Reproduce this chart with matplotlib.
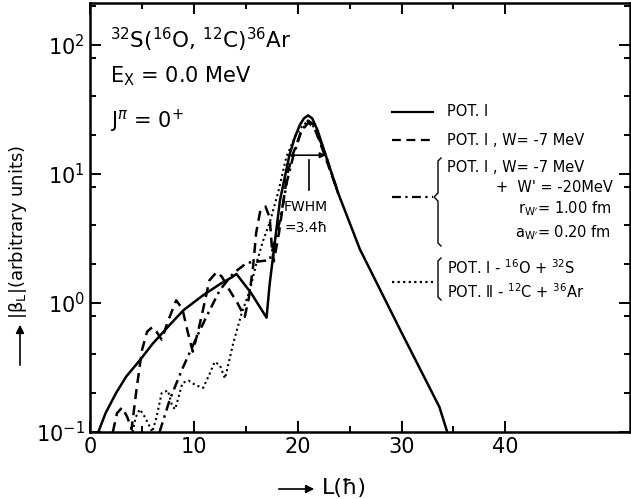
import numpy as np
import matplotlib.pyplot as plt
from matplotlib.lines import Line2D
from matplotlib.patches import FancyArrowPatch
from matplotlib.ticker import LogLocator, FixedLocator, NullFormatter

# L (hbar) and |beta_L|
L_pot1 = [0.8, 1.5, 2.5, 3.5, 4.8, 6.0, 7.7, 9.0, 10.9, 12.5, 13.75, 14.1, 15.5, 17.0,
          17.3, 18.3, 19.2, 19.7, 20.2, 20.6, 21.0, 21.4, 21.9, 22.7, 23.9, 26.0, 28.0,
          30.0, 32.0, 33.65, 34.4]
b_pot1 = [0.1, 0.14, 0.2, 0.27, 0.36, 0.48, 0.68, 0.88, 1.15, 1.4, 1.6, 1.68, 1.2, 0.77,
          1.4, 6.3, 14, 19, 24, 27, 28.5, 27, 22, 14, 7.1, 2.6, 1.24, 0.59, 0.285, 0.156, 0.1]

L_w7 = [2.2, 2.6, 3.1, 3.6, 4.0, 4.5, 5.0, 5.5, 6.0, 6.4, 6.9, 7.5, 8.3, 8.9, 9.4, 9.9,
        10.4, 10.9, 11.5, 12.2, 12.7, 13.2, 14.2, 14.9, 15.3, 15.7, 16.0, 16.4, 16.9,
        17.3, 17.5, 17.7, 18.2, 19.0, 19.5, 20.3, 21.0, 21.6, 22.6, 23.9]
b_w7 = [0.1, 0.14, 0.155, 0.13, 0.105, 0.22, 0.43, 0.6, 0.65, 0.6, 0.52, 0.72, 1.05, 0.9,
        0.6, 0.42, 0.6, 0.9, 1.5, 1.74, 1.6, 1.35, 1.0, 0.78, 1.1, 1.9, 3.5, 5.2, 5.6,
        4.6, 2.8, 2.1, 3.5, 10, 14, 21, 25, 23, 14, 7.1]

L_w20 = [6.7, 7.7, 8.9, 10.3, 11.2, 12.5, 13.8, 15.1, 16.2, 17.3, 17.8, 18.3, 19.0, 19.6,
         20.3, 21.0, 21.6, 22.7, 23.9]
b_w20 = [0.1, 0.18, 0.31, 0.55, 0.78, 1.26, 1.7, 2.05, 2.1, 2.15, 3.0, 4.4, 9, 14,
         21, 26, 24, 14, 7.1]

L_pot2 = [4.1, 4.4, 4.8, 5.3, 6.0, 6.4, 6.9, 7.5, 7.9, 8.2, 8.9, 9.5, 10.2, 10.9, 11.5,
          12.0, 12.5, 13.0, 13.8, 14.6, 15.4, 16.0, 16.7, 17.3, 18.1, 18.9, 19.8, 20.5,
          21.0, 21.6, 22.6, 23.9]
b_pot2 = [0.1, 0.13, 0.15, 0.13, 0.1, 0.13, 0.2, 0.21, 0.16, 0.15, 0.24, 0.25, 0.23, 0.22,
          0.28, 0.35, 0.33, 0.26, 0.49, 0.83, 1.26, 2.0, 3.1, 4.2, 7.1, 13.5, 20, 24,
          25.5, 23, 14.5, 7.1]

W, H = 631, 499
fig = plt.figure(figsize=(W / 100, H / 100), dpi=100)
ax = fig.add_axes([90 / W, 1 - 432 / H, (630 - 90) / W, (432 - 3) / H])


def px(x, y):
    # pixel position (from top-left) -> figure fraction
    return x / W, 1 - y / H


lw = 1.8
ax.plot(L_pot1, b_pot1, color='black', lw=lw, ls='-')
ax.plot(L_w7, b_w7, color='black', lw=lw, ls=(0, (4, 2.5)))
ax.plot(L_w20, b_w20, color='black', lw=lw, ls=(0, (4, 2, 1, 2)))
ax.plot(L_pot2, b_pot2, color='black', lw=1.5, ls=(0, (1, 1.5)))

ax.set_yscale('log')
ax.set_xlim(0, 52)
ax.set_ylim(0.1, 212)
ax.xaxis.set_major_locator(FixedLocator([0, 10, 20, 30, 40]))
ax.xaxis.set_minor_locator(FixedLocator([5, 15, 25, 35]))
ax.yaxis.set_major_locator(LogLocator(base=10, numticks=10))
ax.yaxis.set_minor_locator(LogLocator(base=10, subs=(2, 4, 8), numticks=10))
ax.yaxis.set_minor_formatter(NullFormatter())
ax.tick_params(which='both', direction='in', top=True, right=True, width=1.4,
               labelsize=15)
ax.tick_params(which='major', length=8)
ax.tick_params(which='minor', length=4)
for s in ax.spines.values():
    s.set_linewidth(1.8)

# reaction text
fig.text(*px(110, 48), r'$^{32}$S($^{16}$O, $^{12}$C)$^{36}$Ar', fontsize=15.5,
         va='baseline')
fig.text(*px(110, 82), r'E$_{\rm X}$ = 0.0 MeV', fontsize=15, va='baseline')
fig.text(*px(110, 128), r'J$^{\pi}$ = 0$^{+}$', fontsize=15, va='baseline')

# legend
styles = ['-', (0, (4, 2.5)), (0, (4, 2, 1, 2)), (0, (1, 1.5))]
rows = [112, 140, 197, 282]
for st, y in zip(styles, rows):
    x0, y0 = px(392, y)
    x1, _ = px(433, y)
    fig.add_artist(Line2D([x0, x1], [y0, y0], color='black', lw=1.6, ls=st))

fs = 10.5
fig.text(*px(447, 112), 'POT. Ⅰ', fontsize=fs, va='center')
fig.text(*px(447, 140), 'POT. Ⅰ , W= -7 MeV', fontsize=fs, va='center')
fig.text(*px(447, 168), 'POT. Ⅰ , W= -7 MeV', fontsize=fs, va='center')
fig.text(*px(613, 188), "+  W' = -20MeV", fontsize=fs, va='center', ha='right')
fig.text(*px(611, 209), r"r$_{\rm W'}$= 1.00 fm", fontsize=fs, va='center', ha='right')
fig.text(*px(611, 233), r"a$_{\rm W'}$= 0.20 fm", fontsize=fs, va='center', ha='right')
fig.text(*px(447, 268), r'POT. Ⅰ - $^{16}$O + $^{32}$S', fontsize=fs, va='center')
fig.text(*px(447, 292), r'POT. Ⅱ - $^{12}$C + $^{36}$Ar', fontsize=fs, va='center')

# brace for dash-dot entry
bx = [441, 438, 438, 434, 438, 438, 441]
by = [158, 161, 193, 197, 201, 243, 246]
fx, fy = zip(*[px(a, b) for a, b in zip(bx, by)])
fig.add_artist(Line2D(fx, fy, color='black', lw=1.0))
# bracket for dotted entry
bx = [441, 438, 438, 441]
by = [258, 261, 297, 300]
fx, fy = zip(*[px(a, b) for a, b in zip(bx, by)])
fig.add_artist(Line2D(fx, fy, color='black', lw=1.0))

# FWHM marker
ax.annotate('', xy=(22.7, 14), xytext=(19.3, 14),
            arrowprops=dict(arrowstyle='-|>', color='black', lw=1.2, mutation_scale=8,
                            shrinkA=0, shrinkB=0))
ax.plot([21.1, 21.1], [7.5, 12.8], color='black', lw=1.2)
fig.text(*px(284, 207), 'FWHM', fontsize=10, va='center')
fig.text(*px(284, 228), '=3.4ħ', fontsize=10, va='center')

# axis labels with arrows
fig.text(*px(18, 232), r'|β$_{\rm L}$|(arbitrary units)', rotation=90, fontsize=13,
         ha='center', va='center')
fig.add_artist(FancyArrowPatch(px(20, 368), px(20, 322), transform=fig.transFigure,
                               arrowstyle='-|>', mutation_scale=12, color='black', lw=1.2))
fig.text(*px(322, 488), 'L(ħ)', fontsize=16, va='center')
fig.add_artist(FancyArrowPatch(px(276, 489), px(317, 489), transform=fig.transFigure,
                               arrowstyle='-|>', mutation_scale=12, color='black', lw=1.2))

fig.savefig('out.png', dpi=100)
